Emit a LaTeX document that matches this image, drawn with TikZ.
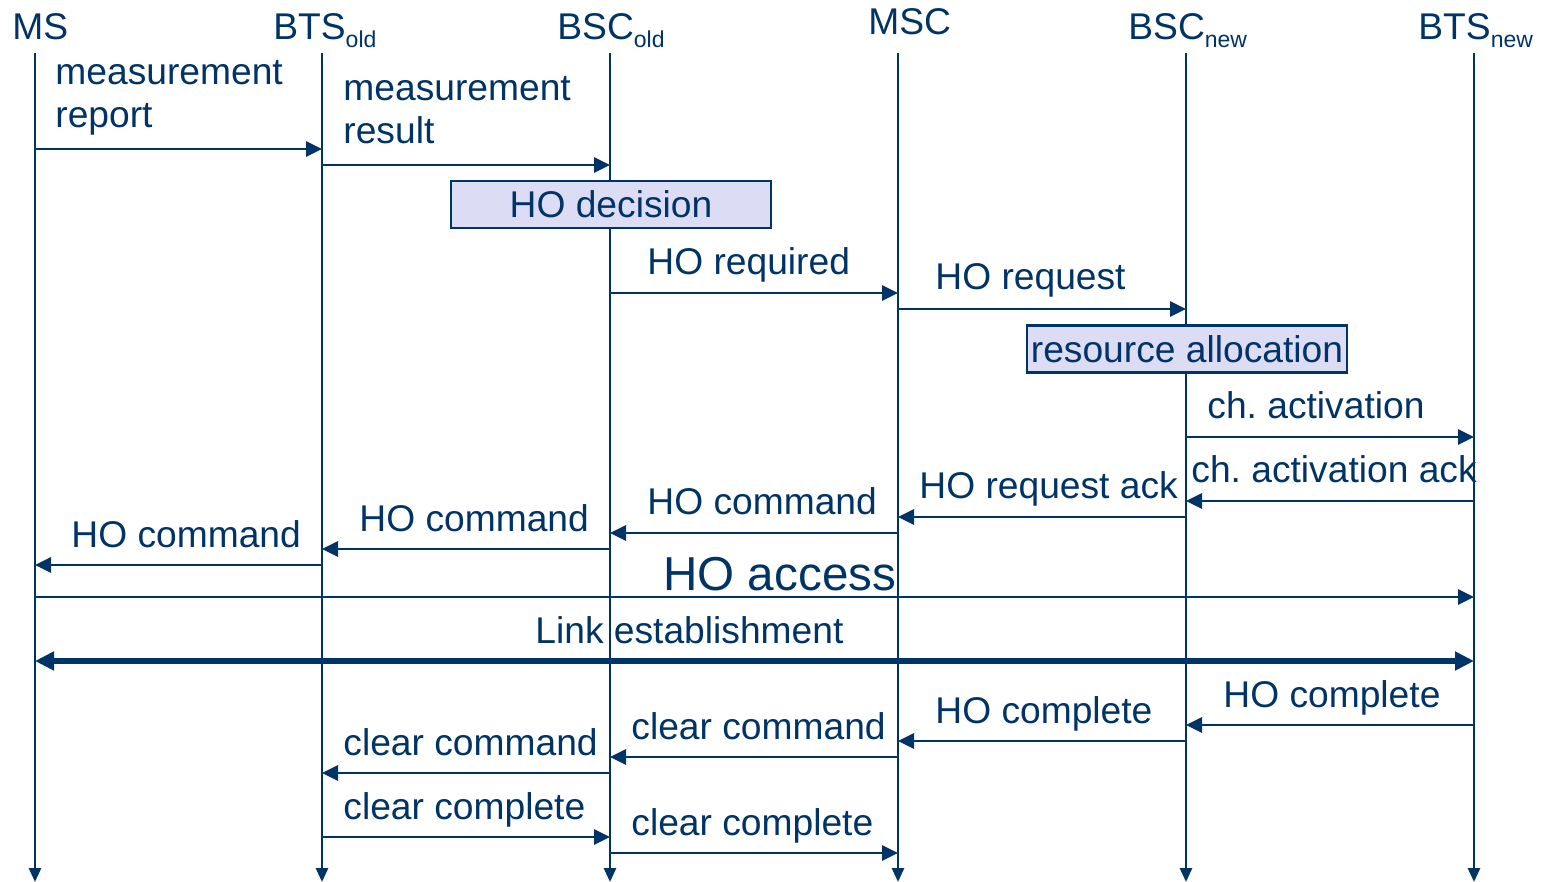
\documentclass[tikz,border=0pt]{standalone}
\usepackage{fontspec}
\setmainfont{Liberation Sans}
\frenchspacing
\usetikzlibrary{arrows.meta}
\definecolor{navy}{HTML}{003366}
\definecolor{lav}{HTML}{DCDCF5}
\newcommand{\lowsub}[1]{\raisebox{-4pt}{\fontsize{11.5}{11.5}\selectfont #1}}
\begin{document}
\begin{tikzpicture}[x=0.5pt,y=-0.5pt,
  every node/.style={text=navy, inner sep=0pt, font=\fontsize{18.6}{21.5}\selectfont},
  lbl/.style={anchor=base west, align=left},
  hdr/.style={anchor=base west},
  life/.style={draw=navy, line width=1.4pt, -{Triangle[length=7pt,width=6pt]}},
  msg/.style={draw=navy, line width=1.4pt, -{Triangle[length=8pt,width=7.5pt]}},
  link/.style={draw=navy, line width=3pt, {Triangle[length=9.5pt,width=9pt]}-{Triangle[length=9.5pt,width=9pt]}},
  actbox/.style={draw=navy, fill=lav, line width=1.1pt, minimum width=160pt, minimum height=23.5pt}
]
\useasboundingbox (0,0) rectangle (1544,882);
% headers
\node[hdr] (hMS)   at (12,40)   {MS};
\node[hdr] (hBTSo) at (273,40)  {BTS\lowsub{old}};
\node[hdr] (hBSCo) at (557,40)  {BSC\lowsub{old}};
\node[hdr] (hMSC)  at (868,35)  {MSC};
\node[hdr] (hBSCn) at (1128,40) {BSC\lowsub{new}};
\node[hdr] (hBTSn) at (1418,40) {BTS\lowsub{new}};
% lifelines
\coordinate (MS)   at (35,53);   \coordinate (MSe)   at (35,882);
\coordinate (BTSo) at (322,53);  \coordinate (BTSoe) at (322,882);
\coordinate (BSCo) at (610,53);  \coordinate (BSCoe) at (610,882);
\coordinate (MSC)  at (898,53);  \coordinate (MSCe)  at (898,882);
\coordinate (BSCn) at (1186,53); \coordinate (BSCne) at (1186,882);
\coordinate (BTSn) at (1474,53); \coordinate (BTSne) at (1474,882);
\foreach \l in {MS,BTSo,BSCo,MSC,BSCn,BTSn} \draw[life] (\l) -- (\l e);
% boxes
\node[actbox] (dec) at (611,204.5) {HO decision};
\node[actbox] (res) at (1187,349) {resource allocation};
% messages
\draw[msg] (MS |- 0,149) -- (BTSo |- 0,149);
\node[lbl] (l1) at (55,128) {measurement\\report};
\draw[msg] (BTSo |- 0,165) -- (BSCo |- 0,165);
\node[lbl] (l2) at (343,144) {measurement\\result};
\draw[msg] (BSCo |- 0,293) -- (MSC |- 0,293);
\node[lbl] (l3) at (647,275) {HO required};
\draw[msg] (MSC |- 0,309) -- (BSCn |- 0,309);
\node[lbl] (l4) at (935,290) {HO request};
\draw[msg] (BSCn |- 0,437) -- (BTSn |- 0,437);
\node[lbl] (l5) at (1207,419) {ch. activation};
\draw[msg] (BTSn |- 0,501) -- (BSCn |- 0,501);
\node[lbl] (l6) at (1191,483) {ch. activation ack};
\draw[msg] (BSCn |- 0,517) -- (MSC |- 0,517);
\node[lbl] (l7) at (919,499) {HO request ack};
\draw[msg] (MSC |- 0,533) -- (BSCo |- 0,533);
\node[lbl] (l8) at (647,515) {HO command};
\draw[msg] (BSCo |- 0,549) -- (BTSo |- 0,549);
\node[lbl] (l9) at (359,531) {HO command};
\draw[msg] (BTSo |- 0,565) -- (MS |- 0,565);
\node[lbl] (l10) at (71,547) {HO command};
\draw[msg] (MS |- 0,597) -- (BTSn |- 0,597);
\node[lbl, font=\fontsize{23.8}{27}\selectfont] (l11) at (663,590) {HO access};
\draw[link] (MS |- 0,661) -- (BTSn |- 0,661);
\node[lbl] (l12) at (535,643) {Link establishment};
\draw[msg] (BTSn |- 0,725) -- (BSCn |- 0,725);
\node[lbl] (l13) at (1223,707) {HO complete};
\draw[msg] (BSCn |- 0,741) -- (MSC |- 0,741);
\node[lbl] (l14) at (935,723) {HO complete};
\draw[msg] (MSC |- 0,757) -- (BSCo |- 0,757);
\node[lbl] (l15) at (631,739) {clear command};
\draw[msg] (BSCo |- 0,773) -- (BTSo |- 0,773);
\node[lbl] (l16) at (343,755) {clear command};
\draw[msg] (BTSo |- 0,837) -- (BSCo |- 0,837);
\node[lbl] (l17) at (343,819) {clear complete};
\draw[msg] (BSCo |- 0,853) -- (MSC |- 0,853);
\node[lbl] (l18) at (631,835) {clear complete};
\end{tikzpicture}
\end{document}
